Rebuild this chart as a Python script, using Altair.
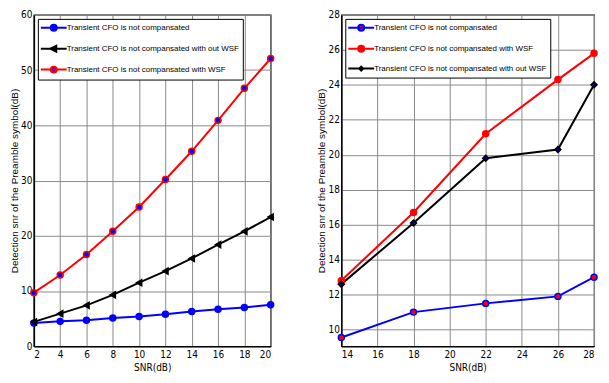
import altair as alt
import pandas as pd

# ---- Left panel data ----
snr_left = [2, 4, 6, 8, 10, 12, 14, 16, 18, 20]
left_not_comp = [4.2, 4.5, 4.7, 5.1, 5.4, 5.8, 6.3, 6.7, 7.0, 7.5]
left_without_wsf = [4.4, 5.9, 7.4, 9.3, 11.5, 13.6, 15.9, 18.4, 20.8, 23.4]
left_with_wsf = [9.7, 12.9, 16.6, 20.8, 25.2, 30.2, 35.3, 40.9, 46.7, 52.1]

# ---- Right panel data ----
snr_right = [14, 18, 22, 26, 28]
right_not_comp = [9.55, 11.0, 11.5, 11.9, 13.0]
right_with_wsf = [12.8, 16.7, 21.2, 24.3, 25.8]
right_without_wsf = [12.6, 16.1, 19.8, 20.3, 24.0]

S1 = "Transient CFO is not compansated"
S2 = "Transient CFO is not compansated with out WSF"
S3 = "Transient CFO is not compansated with WSF"

left_order = [S1, S2, S3]
right_order = [S1, S3, S2]


def frame(xs, series):
    rows = []
    for name, vals in series:
        for x, v in zip(xs, vals):
            rows.append({"snr": x, "val": v, "series": name})
    return pd.DataFrame(rows)


df_left = frame(snr_left, [(S1, left_not_comp), (S2, left_without_wsf), (S3, left_with_wsf)])
df_right = frame(snr_right, [(S1, right_not_comp), (S3, right_with_wsf), (S2, right_without_wsf)])

FONT = "DejaVu Sans Condensed, Liberation Sans Narrow, Liberation Sans, sans-serif"
YTITLE = "Detection snr of the Preamble symbol(dB)"

# legend glyphs: a line with a marker in the middle
P_CIRCLE = "M-2.6,0L2.6,0M-0.6,0a0.6,0.6 0 1,0 1.2,0a0.6,0.6 0 1,0 -1.2,0"
P_TRI = "M-2.6,0L2.6,0M-0.7,0L0.5,-0.6L0.5,0.6Z"
P_DIAM = "M-2.6,0L2.6,0M-0.4,0L0,-0.4L0.4,0L0,0.4Z"


def panel(df, order, line_colors, fill_colors, shapes, sizes, leg_shapes,
          xvals, xdom, ydom, yvals, w, h):
    base = alt.Chart(df)
    x = alt.X("snr:Q", scale=alt.Scale(domain=xdom, nice=False, zero=False),
              axis=alt.Axis(values=xvals, title="SNR(dB)", format="d"))
    y = alt.Y("val:Q", scale=alt.Scale(domain=ydom, nice=False, zero=False),
              axis=alt.Axis(values=yvals, title=YTITLE, format="d"))
    lines = base.mark_line(strokeWidth=2, clip=True).encode(
        x=x, y=y,
        color=alt.Color("series:N", scale=alt.Scale(domain=order, range=line_colors), legend=None),
        order=alt.Order("snr:Q"),
    )
    pts = base.mark_point(filled=False, strokeWidth=1.5, opacity=1).encode(
        x=x, y=y,
        stroke=alt.Stroke("series:N", scale=alt.Scale(domain=order, range=line_colors), legend=None),
        fill=alt.Fill("series:N", scale=alt.Scale(domain=order, range=fill_colors), legend=None),
        shape=alt.Shape("series:N", scale=alt.Scale(domain=order, range=shapes), legend=None),
        size=alt.Size("series:N", scale=alt.Scale(domain=order, range=sizes), legend=None),
    )
    leg = alt.Legend(title=None, orient="top-left", offset=4,
                     symbolSize=100, symbolStrokeWidth=2, symbolOffset=7,
                     labelOffset=7,
                     strokeColor="black", fillColor="white",
                     padding=3, rowPadding=7,
                     labelFont="Liberation Sans", labelFontSize=8,
                     labelColor="black", labelLimit=400)
    legend_layer = base.transform_filter("false").mark_point(
        filled=False, strokeWidth=2, opacity=1).encode(
        x=x, y=y,
        stroke=alt.Stroke("series:N", scale=alt.Scale(domain=order, range=line_colors), legend=leg),
        fill=alt.Fill("series:N", scale=alt.Scale(domain=order, range=fill_colors), legend=leg),
        shape=alt.Shape("series:N", scale=alt.Scale(domain=order, range=leg_shapes), legend=leg),
    )
    return alt.layer(lines, pts, legend_layer).properties(width=w, height=h).resolve_scale(
        stroke="independent", fill="independent", shape="independent", color="independent")


left = panel(df_left, left_order,
             ["#0000ff", "#000000", "#ff0000"],
             ["#0000ff", "#000000", "#0000ff"],
             ["circle", "triangle-left", "circle"],
             [36, 36, 36],
             [P_CIRCLE, P_TRI, P_CIRCLE],
             snr_left, [2, 20], [0, 60], list(range(0, 61, 10)), 238, 333)

right = panel(df_right, right_order,
              ["#0000ff", "#ff0000", "#000000"],
              ["#ff0000", "#ff0000", "#000080"],
              ["circle", "circle", "diamond"],
              [40, 50, 16],
              [P_CIRCLE, P_CIRCLE, P_DIAM],
              list(range(14, 29, 2)), [14, 28], [9.05, 28], list(range(10, 29, 2)), 254, 333)

chart = alt.hconcat(left, right, spacing=38).properties(padding=0).configure_view(
    stroke="black", strokeWidth=1.2
).configure_axis(
    grid=True, gridColor="#8a8a8a", gridWidth=1, gridOpacity=1,
    domainColor="black", domainWidth=1.5,
    tickColor="black", tickSize=0,
    labelFont=FONT, labelFontSize=10, labelColor="black", labelPadding=3,
    titleFont=FONT, titleFontSize=10, titleColor="black", titleFontWeight="normal",
).configure_axisY(
    titleFont="Liberation Sans", titleFontSize=10, titlePadding=1, labelPadding=2,
).configure_axisX(titlePadding=3)

chart.save("out.html", embed_options={"renderer": "svg", "actions": False})
